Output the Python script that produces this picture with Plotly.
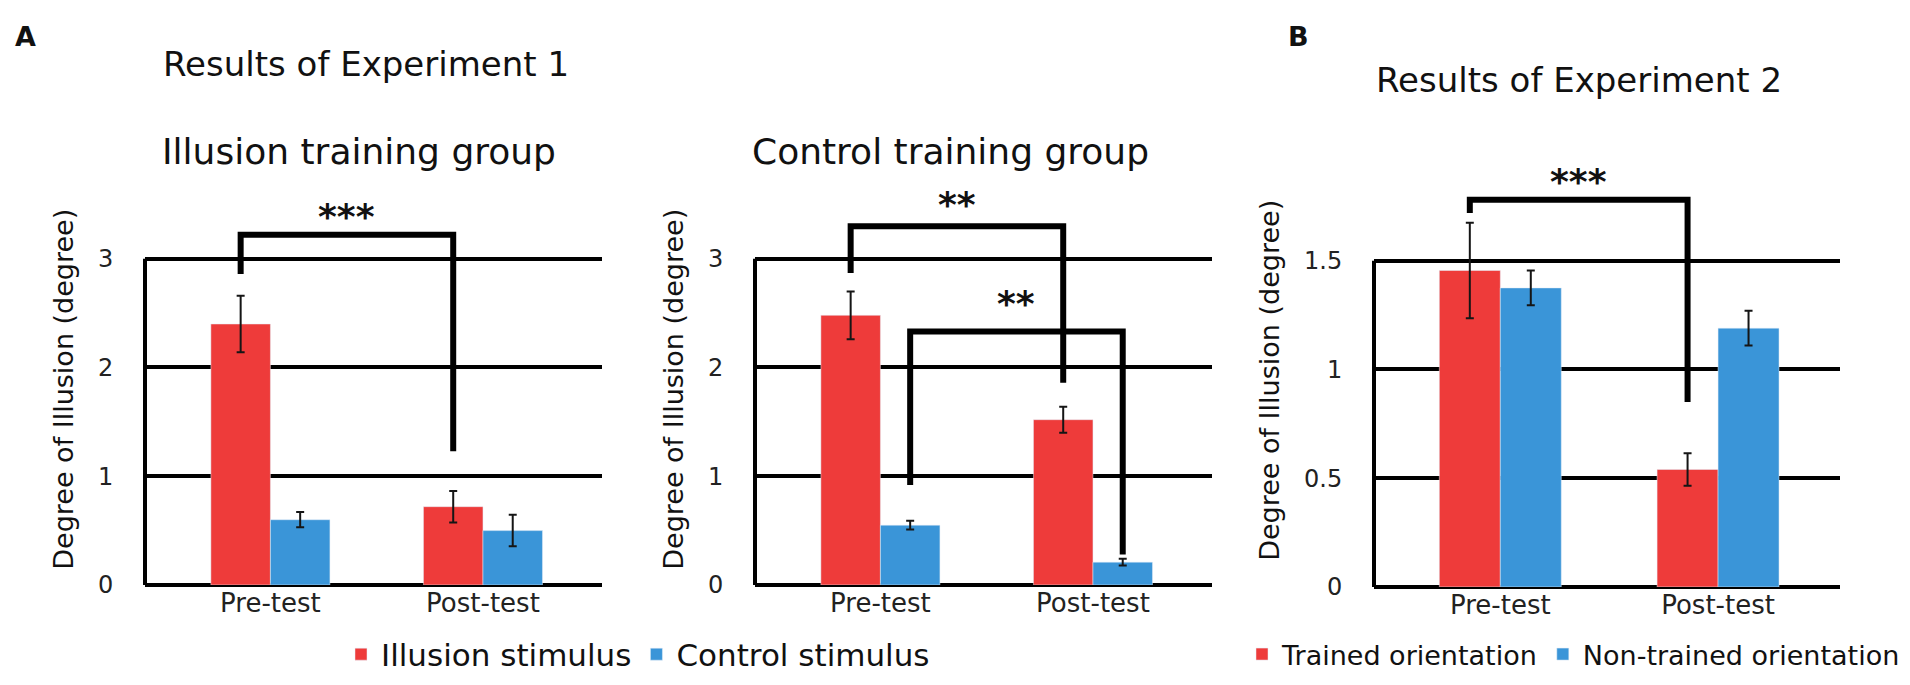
import plotly.graph_objects as go

W, H = 1910, 685

# ---- data ----
categories = ["Pre-test", "Post-test"]

# Experiment 1, illusion training group
exp1_illusion_mean = [2.40, 0.72]
exp1_illusion_err = [0.26, 0.145]
exp1_control_mean = [0.60, 0.50]
exp1_control_err = [0.07, 0.145]

# Experiment 1, control training group
ctrl_illusion_mean = [2.48, 1.52]
ctrl_illusion_err = [0.22, 0.12]
ctrl_control_mean = [0.55, 0.21]
ctrl_control_err = [0.04, 0.03]

# Experiment 2
exp2_trained_mean = [1.455, 0.54]
exp2_trained_err = [0.22, 0.075]
exp2_untrained_mean = [1.375, 1.19]
exp2_untrained_err = [0.08, 0.08]

y_ticks_exp1 = [0, 1, 2, 3]
y_ticks_exp2 = [0, 0.5, 1, 1.5]
y_ticklabels_exp2 = ["0", "0.5", "1", "1.5"]

RED = "#EE3B3A"
BLUE = "#3A95D8"
FONT = "DejaVu Sans"

bargap = 0.44
bar_w = (1 - bargap) / 2


def px_x(x):
    return x / W


def px_y(y):
    return 1 - y / H


fig = go.Figure()


def add_pair(xa, ya, m1, e1, m2, e2, n1, n2, show, legend):
    fig.add_trace(go.Bar(x=categories, y=m1, name=n1, marker_color=RED,
                         error_y=dict(type="data", array=e1, color="#151515", thickness=2, width=4),
                         xaxis=xa, yaxis=ya, showlegend=show, legend=legend, legendgroup=n1))
    fig.add_trace(go.Bar(x=categories, y=m2, name=n2, marker_color=BLUE,
                         error_y=dict(type="data", array=e2, color="#151515", thickness=2, width=4),
                         xaxis=xa, yaxis=ya, showlegend=show, legend=legend, legendgroup=n2))


add_pair("x", "y", exp1_illusion_mean, exp1_illusion_err, exp1_control_mean, exp1_control_err,
         "Illusion stimulus", "Control stimulus", True, "legend")
add_pair("x2", "y2", ctrl_illusion_mean, ctrl_illusion_err, ctrl_control_mean, ctrl_control_err,
         "Illusion stimulus", "Control stimulus", False, "legend")
add_pair("x3", "y3", exp2_trained_mean, exp2_trained_err, exp2_untrained_mean, exp2_untrained_err,
         "Trained orientation", "Non-trained orientation", True, "legend2")

# axes layout (pixel positions of the plotting areas)
xdoms = [(137, 594), (747, 1204), (1366, 1832)]
xranges = [[-0.59, 1.56], [-0.59, 1.56], [-0.58, 1.56]]
yranges = [[0, 3.6], [0, 3.6], [0, 1.9]]
ydoms = [(589, 589 - 3.6 * 111), (589, 589 - 3.6 * 111), (591, 591 - 1.9 * 222)]
ytick_sets = [(y_ticks_exp1, None), (y_ticks_exp1, None), (y_ticks_exp2, y_ticklabels_exp2)]

for i in range(3):
    sfx = "" if i == 0 else str(i + 1)
    fig.layout["xaxis" + sfx] = dict(
        domain=[px_x(xdoms[i][0]), px_x(xdoms[i][1])], range=xranges[i], type="category",
        anchor="y" + sfx, showgrid=False, zeroline=False, showline=False, ticks="",
        tickfont=dict(size=26, color="#222", family=FONT), fixedrange=True)
    tv, tt = ytick_sets[i]
    fig.layout["yaxis" + sfx] = dict(
        domain=[px_y(ydoms[i][0]), px_y(ydoms[i][1])], range=yranges[i], anchor="x" + sfx,
        tickvals=tv, ticktext=tt, showgrid=True, gridcolor="black", gridwidth=4,
        zeroline=True, zerolinecolor="black", zerolinewidth=4, showline=False,
        ticks="outside", ticklen=26, tickcolor="rgba(0,0,0,0)",
        tickfont=dict(size=24, color="#222", family=FONT),
        title=dict(text="Degree of Illusion (degree)", font=dict(size=27, color="#111", family=FONT),
                   standoff=16),
        fixedrange=True)

shapes = []
# left axis lines, from 0 to the top gridline
for i, top in enumerate([3, 3, 1.5]):
    sfx = "" if i == 0 else str(i + 1)
    shapes.append(dict(type="line", xref="x" + sfx + " domain", yref="y" + sfx,
                       x0=0, x1=0, y0=0, y1=top, line=dict(color="black", width=4)))

# significance brackets: (axis, from cat, from series, to cat, to series, top, left end, right end, label, label y)
brackets = [
    ("", 0, 0, 1, 0, 3.22, 2.86, 1.23, "***", 3.39),
    ("2", 0, 0, 1, 0, 3.30, 2.87, 1.86, "**", 3.50),
    ("2", 0, 1, 1, 1, 2.33, 0.92, 0.28, "**", 2.59),
    ("3", 0, 0, 1, 0, 1.78, 1.72, 0.85, "***", 1.865),
]

annotations = []
for ax, c0, s0, c1, s1, top, yl, yr, lab, ly in brackets:
    xl = c0 + (s0 - 0.5) * bar_w
    xr = c1 + (s1 - 0.5) * bar_w
    shapes.append(dict(type="path", xref="x" + ax, yref="y" + ax,
                       path=f"M {xl},{yl} L {xl},{top} L {xr},{top} L {xr},{yr}",
                       line=dict(color="black", width=6), layer="above"))
    annotations.append(dict(text=lab, xref="x" + ax, yref="y" + ax, x=(xl + xr) / 2, y=ly,
                            showarrow=False, yanchor="middle", yshift=0,
                            font=dict(size=36, color="#111", family=FONT, weight="bold")))

# panel letters and titles
titles = [
    ("A", 17, 29, 27, True),
    ("B", 1290, 29, 27, True),
    ("Results of Experiment 1", 358, 57, 34, False),
    ("Illusion training group", 351, 146, 36, False),
    ("Control training group", 942, 146, 36, False),
    ("Results of Experiment 2", 1571, 73, 34, False),
]
for txt, x, y, size, bold in titles:
    annotations.append(dict(text=txt, xref="paper", yref="paper", x=px_x(x), y=px_y(y),
                            showarrow=False, xanchor="center", yanchor="middle",
                            font=dict(size=size, color="#111", family=FONT,
                                      weight="bold" if bold else "normal")))

fig.update_layout(
    width=W, height=H,
    margin=dict(l=0, r=0, t=0, b=0),
    paper_bgcolor="white", plot_bgcolor="white",
    barmode="group", bargap=bargap, bargroupgap=0,
    font=dict(family=FONT, color="#111"),
    shapes=shapes, annotations=annotations,
    legend=dict(orientation="h", x=px_x(333), y=px_y(660), xanchor="left", yanchor="middle",
                font=dict(size=31, family=FONT, color="#111"), bgcolor="rgba(0,0,0,0)"),
    legend2=dict(orientation="h", x=px_x(1234), y=px_y(660), xanchor="left", yanchor="middle",
                 font=dict(size=27, family=FONT, color="#111"), bgcolor="rgba(0,0,0,0)"),
)

fig.write_html("out.html")
